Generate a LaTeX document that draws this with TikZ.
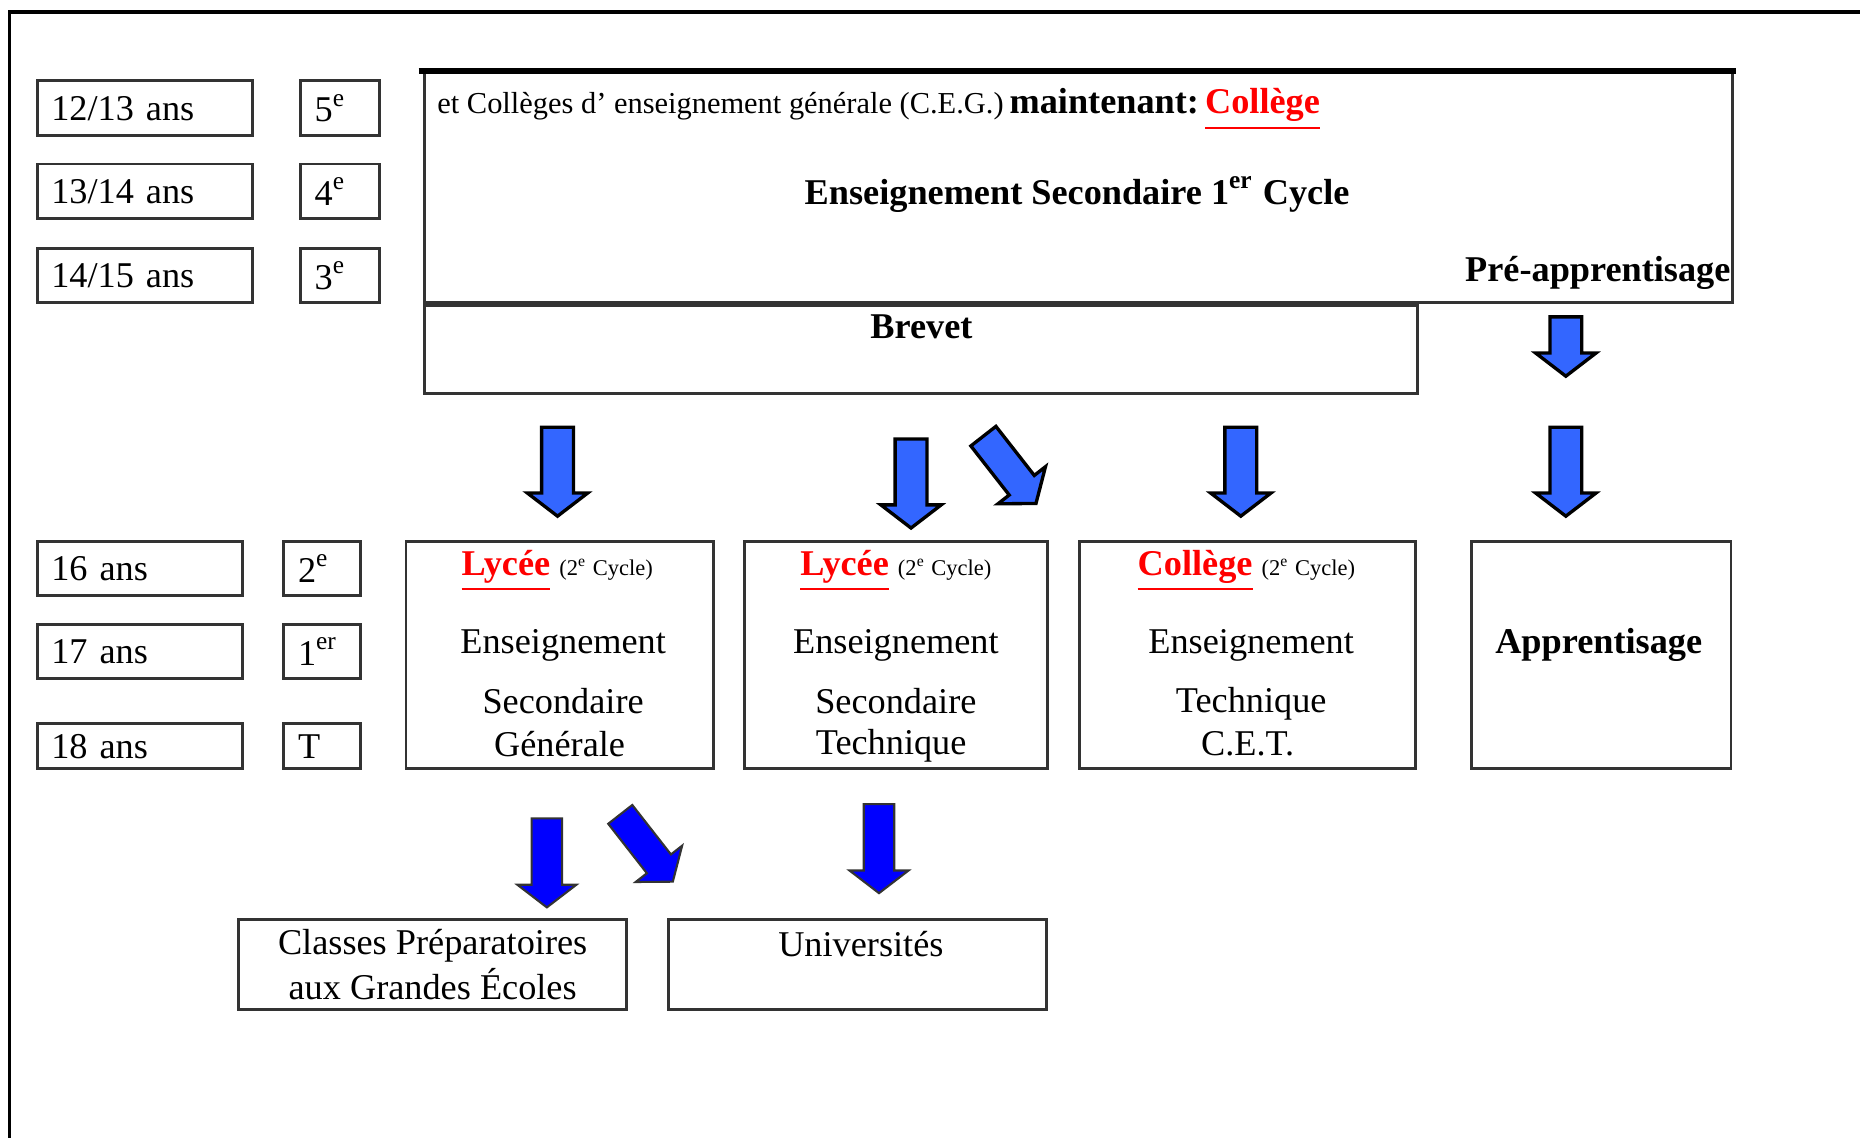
\documentclass[tikz,border=0pt]{standalone}
\usepackage{fontspec}
\setmainfont{Liberation Serif}
\usetikzlibrary{calc,shapes.arrows}
\definecolor{arrblue}{RGB}{51,102,255}
\definecolor{deepblue}{RGB}{0,0,255}
\tikzset{
  cadre/.style={rectangle,draw=black!80,line width=0.7pt,inner sep=0pt,anchor=north west},
  agebox/.style={cadre,inner xsep=0.12cm,align=left},
  grastxt/.style={font=\fontsize{8.7}{10}\selectfont\bfseries},
  fleche/.style={single arrow,draw=black,line width=0.8pt,fill=arrblue,inner sep=0.12cm,
    single arrow head extend=0.12cm,single arrow tip angle=105,minimum width=0pt},
  flechebas/.style={fleche,fill=deepblue,draw=black!80,line width=0.5pt}
}
\def\agenode{\node[agebox]}
\def\flechenode{\node[fleche]}
\newcommand\rouge[1]{\textcolor{red}{\underline{\textbf{#1}}}}
\newcommand\deuxcycle{{\fontsize{5.4}{7}\selectfont(2\textsuperscript{e} Cycle)}}

\begin{document}
\begin{tikzpicture}[font=\fontsize{8.7}{10}\selectfont]
\useasboundingbox (0,0) rectangle (15.68,-9.59);
\draw[line width=0.9pt] (15.68,-0.10) -- (0.08,-0.10) -- (0.08,-9.59);

% Ages et classes, premier cycle
\agenode[text width=1.58cm,minimum height=0.46cm] (a1213) at (0.30,-0.67) {12/13 ans};
\agenode[text width=1.58cm,minimum height=0.46cm] (a1314) at (0.30,-1.37) {13/14 ans};
\agenode[text width=1.58cm,minimum height=0.46cm] (a1415) at (0.30,-2.08) {14/15 ans};
\agenode[text width=0.43cm,minimum height=0.46cm] (c5) at (2.52,-0.67) {5\textsuperscript{e}};
\agenode[text width=0.43cm,minimum height=0.46cm] (c4) at (2.52,-1.37) {4\textsuperscript{e}};
\agenode[text width=0.43cm,minimum height=0.46cm] (c3) at (2.52,-2.08) {3\textsuperscript{e}};

% Premier cycle et brevet
\node[cadre,minimum width=11.02cm,minimum height=1.94cm] (cycle1) at (3.57,-0.60) {};
\draw[line width=1.3pt] ($ (cycle1.north west) - (0.04,0) $) to ($ (cycle1.north east) + (0.02,0) $);
\node[cadre,minimum width=8.37cm,minimum height=0.74cm] (brevet) at (cycle1.south west) {};
\node[anchor=base west,inner sep=0pt] (ceg) at ($ (cycle1.north west) + (0.11,-0.36) $)
  {{\fontsize{7.3}{9}\selectfont et Collèges d' enseignement générale (C.E.G.)}\,\textbf{maintenant:}\,\rouge{Collège}};
\node[grastxt] (titre1) at ($ (cycle1.north west) + (5.51,-1.04) $)
  {Enseignement Secondaire 1\textsuperscript{er} Cycle};
\node[grastxt,anchor=east,inner sep=0pt] (preapp) at ($ (cycle1.south east) + (-0.02,0.26) $) {Pré-apprentisage};
\node[grastxt] (brevtxt) at ($ (brevet.north) + (0,-0.19) $) {Brevet};

% Fleches vers le second cycle
\flechenode[rotate=-90,minimum height=0.50cm] (fpre) at (13.20,-2.87) {};
\flechenode[rotate=-90,minimum height=0.75cm] (f1) at (4.70,-3.925) {};
\flechenode[rotate=-90,minimum height=0.75cm] (f2) at (7.68,-4.025) {};
\flechenode[rotate=-52,minimum height=0.72cm] (f3) at (8.48,-3.92) {};
\flechenode[rotate=-90,minimum height=0.75cm] (f4) at (10.46,-3.925) {};
\flechenode[rotate=-90,minimum height=0.75cm] (f5) at (13.20,-3.925) {};

% Ages et classes, second cycle
\agenode[text width=1.49cm,minimum height=0.46cm] (a16) at (0.30,-4.55) {16 ans};
\agenode[text width=1.49cm,minimum height=0.46cm] (a17) at (0.30,-5.25) {17 ans};
\agenode[text width=1.49cm,minimum height=0.38cm] (a18) at (0.30,-6.09) {18 ans};
\agenode[text width=0.41cm,minimum height=0.46cm] (c2) at (2.38,-4.55) {2\textsuperscript{e}};
\agenode[text width=0.41cm,minimum height=0.46cm] (c1) at (2.38,-5.25) {1\textsuperscript{er}};
\agenode[text width=0.41cm,minimum height=0.38cm] (cT) at (2.38,-6.09) {T};

% Second cycle
\node[cadre,minimum width=2.59cm,minimum height=1.92cm] (lgen) at (3.41,-4.55) {};
\node[cadre,minimum width=2.56cm,minimum height=1.92cm] (ltec) at (6.26,-4.55) {};
\node[cadre,minimum width=2.83cm,minimum height=1.92cm] (cet) at (9.09,-4.55) {};
\node[cadre,minimum width=2.19cm,minimum height=1.92cm] (appr) at (12.39,-4.55) {};

\node (lgen1) at ($ (lgen.north) + (-0.02,-0.26) $) {\rouge{Lycée} \deuxcycle};
\node (lgen2) at ($ (lgen.north) + (0.03,-0.89) $) {Enseignement};
\node (lgen3) at ($ (lgen.north) + (0.03,-1.36) $) {Secondaire};
\node (lgen4) at ($ (lgen.north) + (0,-1.72) $) {Générale};

\node (ltec1) at ($ (ltec.north) + (0,-0.26) $) {\rouge{Lycée} \deuxcycle};
\node (ltec2) at ($ (ltec.north) + (0,-0.89) $) {Enseignement};
\node (ltec3) at ($ (ltec.north) + (0,-1.36) $) {Secondaire};
\node (ltec4) at ($ (ltec.north) + (-0.04,-1.74) $) {Technique};

\node (cet1) at ($ (cet.north) + (-0.01,-0.26) $) {\rouge{Collège} \deuxcycle};
\node (cet2) at ($ (cet.north) + (0.03,-0.89) $) {Enseignement};
\node (cet3) at ($ (cet.north) + (0.03,-1.38) $) {Technique};
\node (cet4) at ($ (cet.north) + (0,-1.72) $) {C.E.T.};

\node[grastxt] (appr1) at ($ (appr.north) + (-0.02,-0.89) $) {Apprentisage};

% Fleches vers le superieur
\node[flechebas,rotate=-90,minimum height=0.75cm] (g1) at (4.61,-7.225) {};
\node[flechebas,rotate=-52,minimum height=0.72cm] (g2) at (5.42,-7.11) {};
\node[flechebas,rotate=-90,minimum height=0.75cm] (g3) at (7.41,-7.105) {};

% Superieur
\node[cadre,minimum width=3.27cm,minimum height=0.76cm] (cpge) at (2.00,-7.74) {};
\node[cadre,minimum width=3.19cm,minimum height=0.76cm] (univ) at (5.62,-7.74) {};
\node (cpge1) at ($ (cpge.north) + (0,-0.23) $) {Classes Préparatoires};
\node (cpge2) at ($ (cpge.north) + (0,-0.56) $) {aux Grandes Écoles};
\node (univ1) at ($ (univ.north) + (0.03,-0.22) $) {Universités};
\end{tikzpicture}
\end{document}
